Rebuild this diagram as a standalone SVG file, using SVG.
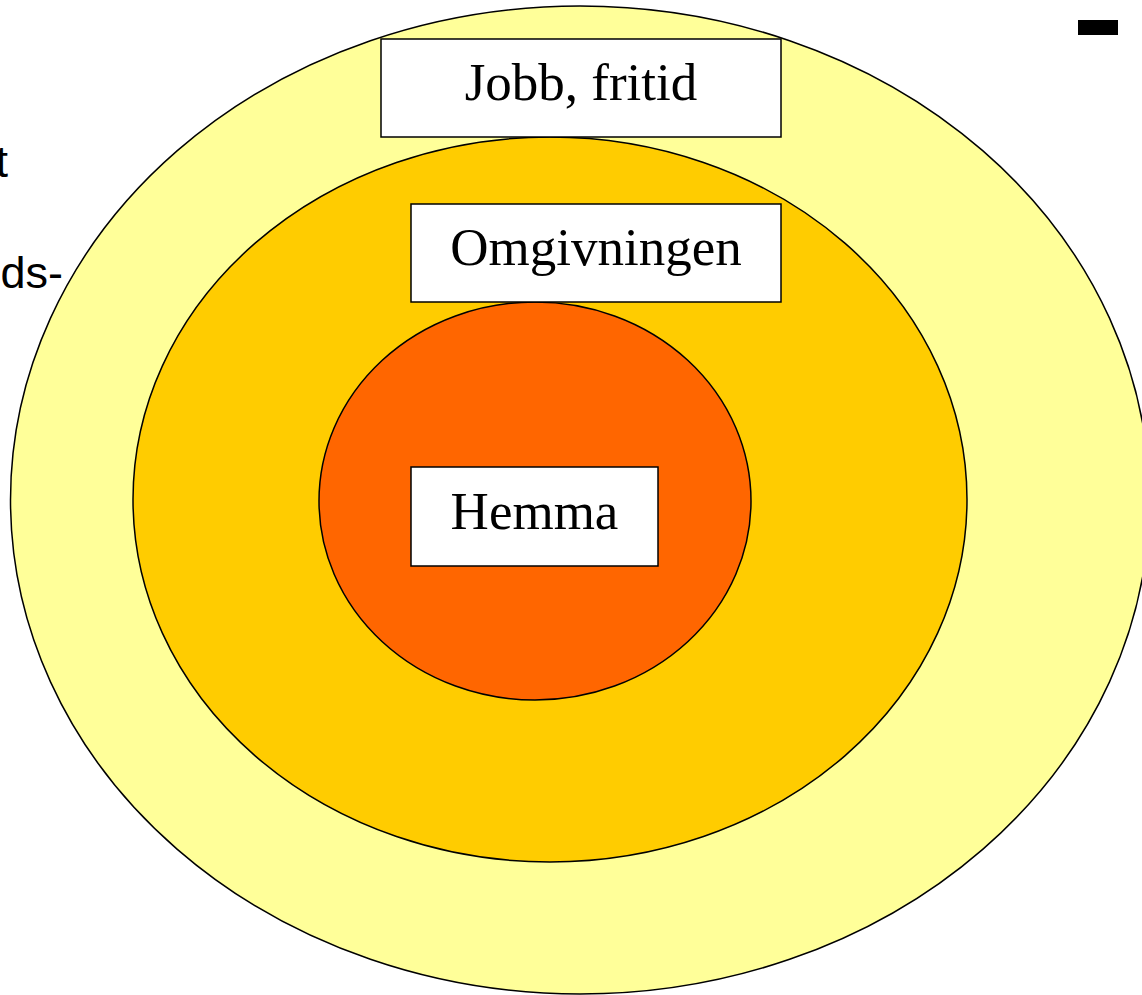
<svg xmlns="http://www.w3.org/2000/svg" width="1142" height="995" viewBox="0 0 1142 995">
<style>
.ring{stroke:#000;stroke-width:1.5}
.box{fill:#fff;stroke:#000;stroke-width:1.5}
.lbl{font-family:"Liberation Serif","Times New Roman",serif;font-size:53px;fill:#000;text-anchor:middle}
.side{font-family:"Liberation Sans",Arial,sans-serif;font-size:45px;fill:#000;text-anchor:end}
</style>
<rect width="1142" height="995" fill="#fff"/>
<text class="side" x="8" y="177">t</text>
<text class="side" x="63" y="288">ds-</text>
<rect x="1078" y="20" width="40" height="15" fill="#000"/>
<g id="outer"><ellipse class="ring" cx="580" cy="500" rx="569.5" ry="494" fill="#FFFF99"/></g>
<g id="middle"><ellipse class="ring" cx="550" cy="499.5" rx="417" ry="362.5" fill="#FFCC00"/></g>
<g id="inner"><ellipse class="ring" cx="535" cy="501" rx="216" ry="199" fill="#FF6600"/></g>
<g id="connectors"/>
<g id="jobb"><rect class="box" x="381" y="39" width="400" height="98"/><text class="lbl" x="581" y="100">Jobb, fritid</text></g>
<g id="omgivningen"><rect class="box" x="411" y="204" width="370" height="98"/><text class="lbl" x="596" y="265">Omgivningen</text></g>
<g id="hemma"><rect class="box" x="411" y="467" width="247" height="99"/><text class="lbl" x="534.5" y="529">Hemma</text></g>
</svg>
